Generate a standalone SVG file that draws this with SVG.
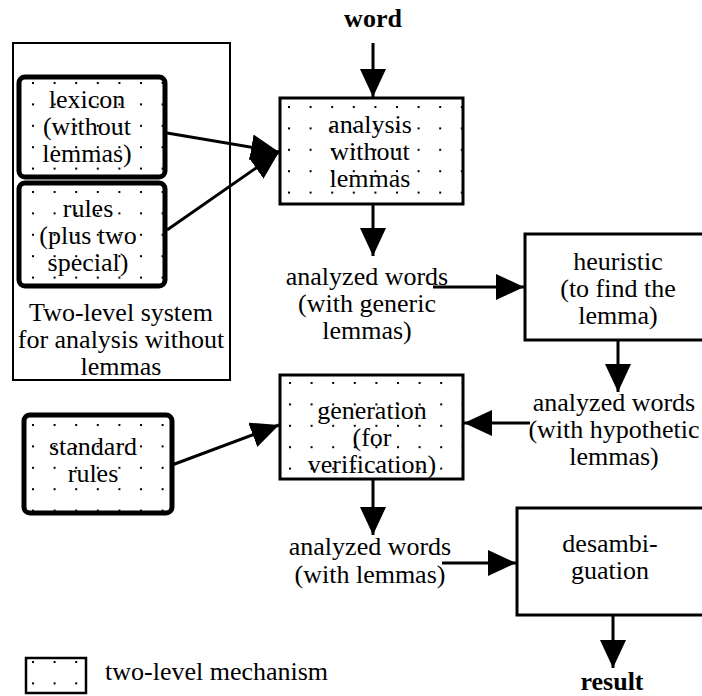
<svg xmlns="http://www.w3.org/2000/svg" width="702" height="696" viewBox="0 0 702 696">
<style>
  text { font-family: "Liberation Serif", "Times New Roman", serif; font-size: 26px; fill: #000; text-anchor: middle; }
  text.b { font-weight: bold; }
  .box { fill: none; stroke: #000; stroke-width: 3; }
  .thick { fill: none; stroke: #000; stroke-width: 5; }
  .thin { fill: none; stroke: #000; stroke-width: 2; }
  .con { fill: none; stroke: #000; stroke-width: 3; marker-end: url(#arr); }
</style>
<defs>
  <pattern id="dots" patternUnits="userSpaceOnUse" width="21.6" height="21.4">
    <rect x="0" y="0" width="2" height="2" fill="#000"/>
  </pattern>
  <marker id="arr" markerUnits="userSpaceOnUse" markerWidth="28" markerHeight="26" refX="28" refY="13" orient="auto">
    <path d="M0,0 L28,13 L0,26 z" fill="#000"/>
  </marker>
</defs>
<rect width="702" height="696" fill="#fff"/>

<g id="system">
  <rect class="thin" x="13" y="43" width="217" height="337"/>
  <text x="121" y="321">Two-level system</text>
  <text x="121" y="348">for analysis without</text>
  <text x="121" y="375">lemmas</text>
</g>

<g id="lexicon">
  <g transform="translate(32,82)"><rect x="-13" y="-5" width="146" height="100" fill="url(#dots)"/></g>
  <rect class="thick" x="19" y="77" width="146" height="100" rx="6"/>
  <text x="87" y="108">lexicon</text>
  <text x="87" y="135">(without</text>
  <text x="87" y="162">lemmas)</text>
</g>

<g id="rules">
  <g transform="translate(32,191)"><rect x="-13" y="-8" width="146" height="103" fill="url(#dots)"/></g>
  <rect class="thick" x="19" y="183" width="146" height="103" rx="6"/>
  <text x="88" y="217">rules</text>
  <text x="88" y="244">(plus two</text>
  <text x="88" y="271">special)</text>
</g>

<g id="word">
  <text class="b" x="373" y="27">word</text>
</g>

<g id="analysis">
  <g transform="translate(288,106)"><rect x="-8" y="-8" width="183" height="106" fill="url(#dots)"/></g>
  <rect class="box" x="280" y="98" width="183" height="106"/>
  <text x="370" y="133">analysis</text>
  <text x="370" y="160">without</text>
  <text x="370" y="187">lemmas</text>
</g>

<g id="generic">
  <text x="367" y="285">analyzed words</text>
  <text x="367" y="312">(with generic</text>
  <text x="367" y="339">lemmas)</text>
</g>

<g id="heuristic">
  <rect class="box" x="525" y="234" width="200" height="106"/>
  <text x="618" y="270">heuristic</text>
  <text x="618" y="297">(to find the</text>
  <text x="618" y="324">lemma)</text>
</g>

<g id="hypothetic">
  <text x="614" y="411">analyzed words</text>
  <text x="614" y="438">(with hypothetic</text>
  <text x="614" y="465">lemmas)</text>
</g>

<g id="generation">
  <g transform="translate(289,382)"><rect x="-9" y="-7" width="183" height="104" fill="url(#dots)"/></g>
  <rect class="box" x="280" y="375" width="183" height="104"/>
  <text x="372" y="419">generation</text>
  <text x="372" y="446">(for</text>
  <text x="372" y="473">verification)</text>
</g>

<g id="standard">
  <g transform="translate(32,424)"><rect x="-8" y="-9" width="148" height="98" fill="url(#dots)"/></g>
  <rect class="thick" x="24" y="415" width="148" height="98" rx="6"/>
  <text x="93" y="455">standard</text>
  <text x="93" y="482">rules</text>
</g>

<g id="withlemmas">
  <text x="370" y="555">analyzed words</text>
  <text x="370" y="583">(with lemmas)</text>
</g>

<g id="desambiguation">
  <rect class="box" x="517" y="508" width="200" height="107"/>
  <text x="610" y="552">desambi-</text>
  <text x="610" y="579">guation</text>
</g>

<g id="result">
  <text class="b" x="612" y="690">result</text>
</g>

<g id="legend">
  <g transform="translate(32,661)"><rect x="-6" y="-3" width="60" height="35" fill="url(#dots)"/></g>
  <rect class="thin" x="26" y="658" width="60" height="35" style="stroke-width:2.5"/>
  <text x="105" y="680" style="text-anchor:start">two-level mechanism</text>
</g>

<g id="connectors">
  <line class="con" x1="373" y1="43" x2="373" y2="97"/>
  <line class="con" x1="167" y1="133" x2="279" y2="152"/>
  <line class="con" x1="167" y1="230" x2="279" y2="152"/>
  <line class="con" x1="373" y1="204" x2="373" y2="256"/>
  <line class="con" x1="433" y1="287" x2="524" y2="287"/>
  <line class="con" x1="618" y1="340" x2="618" y2="392"/>
  <line class="con" x1="530" y1="423" x2="464" y2="423"/>
  <line class="con" x1="172" y1="465" x2="279" y2="425"/>
  <line class="con" x1="373" y1="479" x2="373" y2="535"/>
  <line class="con" x1="442" y1="563" x2="516" y2="563"/>
  <line class="con" x1="613" y1="615" x2="613" y2="668"/>
</g>
</svg>
